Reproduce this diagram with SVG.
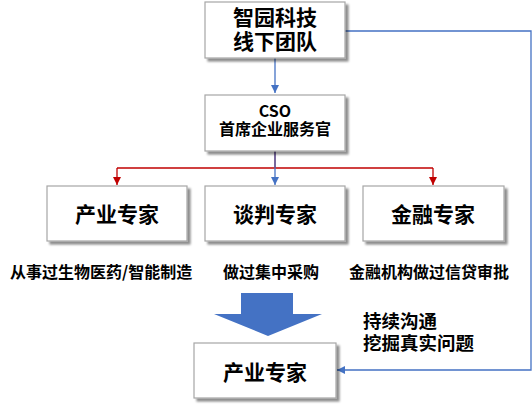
<svg xmlns="http://www.w3.org/2000/svg" width="532" height="408" viewBox="0 0 532 408">
<style>
.box{fill:#ffffff;stroke:#a6a6a6;stroke-width:1.2;filter:url(#sh)}
.t{font-family:"Noto Sans CJK SC","Liberation Sans",sans-serif;font-weight:bold;fill:#000;text-anchor:middle}
.lbl{font-family:"Noto Sans CJK SC","Liberation Sans",sans-serif;font-weight:bold;fill:#000}
.red{stroke:#c00000;stroke-width:1.3;fill:none}
.blue{stroke:#4472c4;stroke-width:1.3;fill:none}
</style>
<defs>
<filter id="sh" x="-10%" y="-10%" width="130%" height="140%">
<feGaussianBlur in="SourceAlpha" stdDeviation="1.2"/>
<feOffset dx="3" dy="3" result="b"/>
<feComponentTransfer><feFuncA type="linear" slope="0.45"/></feComponentTransfer>
<feMerge><feMergeNode/><feMergeNode in="SourceGraphic"/></feMerge>
</filter>
<marker id="ar" viewBox="0 0 10 10" refX="10" refY="5" markerWidth="8" markerHeight="8" markerUnits="userSpaceOnUse" orient="auto"><path d="M0,0 L10,5 L0,10 z" fill="#c00000"/></marker>
<marker id="ab" viewBox="0 0 10 10" refX="10" refY="5" markerWidth="8" markerHeight="8" markerUnits="userSpaceOnUse" orient="auto"><path d="M0,0 L10,5 L0,10 z" fill="#4472c4"/></marker>
</defs>
<g id="connectors">
<path class="red" d="M275,151 V168"/>
<path class="red" d="M117,168 H433"/>
<path class="red" d="M117,168 V185" marker-end="url(#ar)"/>
<path class="red" d="M433,168 V185" marker-end="url(#ar)"/>
<path class="blue" d="M275,58 V93" marker-end="url(#ab)"/>
<path class="blue" d="M275,151 V185" marker-end="url(#ab)"/>
<path class="blue" d="M345,31 H531 V370 H337" marker-end="url(#ab)"/>
</g>
<g id="big-arrow">
<path d="M241,293 H293 V314 H322 L268,336 L214,314 H241 Z" fill="#4472c4"/>
</g>
<g id="node-top">
<rect class="box" x="205" y="2" width="140" height="56"/>
<text class="t" x="275" y="25" font-size="21">智园科技</text>
<text class="t" x="275" y="49" font-size="21">线下团队</text>
</g>
<g id="node-cso">
<rect class="box" x="205" y="95" width="140" height="56"/>
<text class="t" x="275" y="117" font-size="16">CSO</text>
<text class="t" x="275" y="135" font-size="16">首席企业服务官</text>
</g>
<g id="node-industry">
<rect class="box" x="47" y="186" width="140" height="55"/>
<text class="t" x="117" y="222" font-size="21">产业专家</text>
</g>
<g id="node-negotiation">
<rect class="box" x="205" y="186" width="140" height="55"/>
<text class="t" x="275" y="222" font-size="21">谈判专家</text>
</g>
<g id="node-finance">
<rect class="box" x="363" y="186" width="141" height="55"/>
<text class="t" x="433" y="222" font-size="21">金融专家</text>
</g>
<g id="labels">
<text class="lbl" x="10" y="278" font-size="16">从事过生物医药/智能制造</text>
<text class="lbl" x="223" y="278" font-size="16">做过集中采购</text>
<text class="lbl" x="349" y="278" font-size="16">金融机构做过信贷审批</text>
<text class="lbl" x="363" y="328" font-size="18.5">持续沟通</text>
<text class="lbl" x="363" y="350" font-size="18.5">挖掘真实问题</text>
</g>
<g id="node-bottom">
<rect class="box" x="194" y="343" width="142" height="55"/>
<text class="t" x="265" y="380" font-size="21">产业专家</text>
</g>
</svg>
